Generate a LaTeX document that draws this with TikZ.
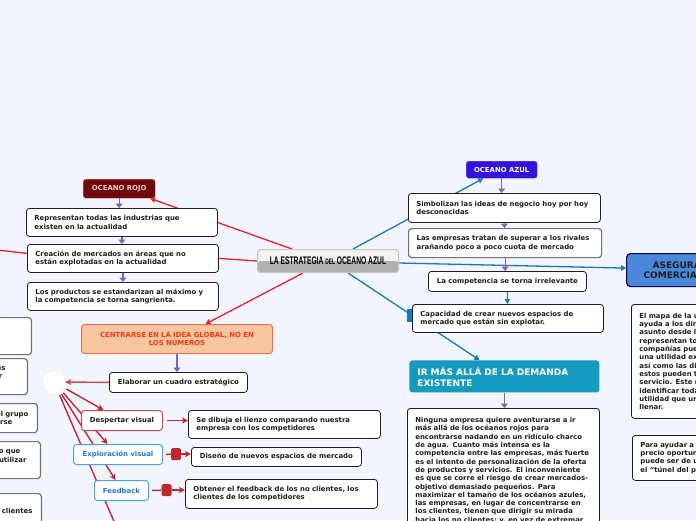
\documentclass[tikz,border=0pt]{standalone}
\usepackage{fontspec}
\setmainfont{DejaVu Sans}
\newfontfamily\titulo{Liberation Sans}
\usepackage{graphicx}
\usetikzlibrary{arrows.meta,calc}

\definecolor{colorfondo}{RGB}{243,245,254}
\definecolor{rojolinea}{RGB}{232,34,44}
\definecolor{rojooscuro}{RGB}{192,40,48}
\definecolor{rojomedio}{RGB}{205,72,82}
\definecolor{azullinea}{RGB}{22,122,192}
\definecolor{morado}{RGB}{128,98,186}
\definecolor{granate}{RGB}{110,8,10}
\definecolor{rosa}{RGB}{245,200,200}
\definecolor{violeta}{RGB}{52,18,222}
\definecolor{durazno}{RGB}{246,198,158}
\definecolor{naranja}{RGB}{240,112,80}
\definecolor{textonaranja}{RGB}{255,56,16}
\definecolor{turquesa}{RGB}{22,154,192}
\definecolor{azulmedio}{RGB}{74,136,218}
\definecolor{azulborde}{RGB}{76,160,248}
\definecolor{azultexto}{RGB}{30,120,226}
\definecolor{texto}{RGB}{30,30,34}

\pgfdeclarelayer{capafondo}
\pgfdeclarelayer{lineas}
\pgfsetlayers{capafondo,lineas,main}

\newcommand\letra{\fontsize{6.9}{8.3}\selectfont\bfseries}
\newcommand\letragrande{\fontsize{9}{11}\selectfont\bfseries}

\tikzset{
	caja/.style={anchor=north west, draw=texto, line width=0.8pt, fill=white,
		rounded corners=3pt, inner xsep=8pt, inner ysep=2pt, align=left,
		font=\letra, text=texto},
	cajagris/.style={caja, draw=black!55, line width=1.2pt},
	cajacorta/.style={caja, align=center},
	cortada/.style={caja, anchor=north east, draw=black!55, line width=1.2pt,
		text width=80pt, align=right},
	centro/.style={anchor=north west, minimum width=141pt, minimum height=23pt,
		inner sep=0pt, rounded corners=3pt, draw=gray!45, line width=1pt, fill=gray!10,
		path picture={\fill[gray!62] (path picture bounding box.west)
			rectangle (path picture bounding box.south east);}},
	titulo/.style={anchor=north west, inner sep=0pt, rounded corners=2.5pt,
		font=\letra, align=center},
	rama/.style={line width=1.3pt},
	punta/.style={-{Triangle[length=5pt,width=5.5pt]}},
	ramaoscura/.style={line width=1.4pt, rojooscuro},
	puntaoscura/.style={-{Stealth[length=6pt,width=6pt,inset=1.5pt]}},
	flecha/.style={-{Triangle[length=4.5pt,width=7pt]}, morado, line width=1.2pt},
	cuadrito/.style={fill=rojooscuro, rounded corners=1.5pt, minimum width=10pt,
		minimum height=12pt, inner sep=0pt}
}

\begin{document}
\begin{tikzpicture}[x=1pt,y=-1pt]

	% fondo
	\useasboundingbox (0,0) rectangle (696,520);
	\begin{pgfonlayer}{capafondo}
		\fill[colorfondo] (0,0) rectangle (696,520);
	\end{pgfonlayer}
	\clip (0,0) rectangle (696,520);

	% nodo central
	\node[centro] (estrategia) at (257,249)
		{\scalebox{0.61}[1]{\titulo\bfseries\fontsize{11}{13}\selectfont LA ESTRATEGIA
		{\fontsize{8}{10}\selectfont DEL} OCEANO AZUL}};

	% oceano rojo
	\node[titulo, fill=granate, draw=rosa!70!red, text=rosa, minimum width=72pt,
		minimum height=19pt] (rojo) at (83,179) {OCEANO ROJO};
	\node[caja, text width=175pt, minimum height=28pt] (industrias) at (26,208)
		{Representan todas las industrias que\\existen en la actualidad};
	\node[caja, text width=175pt, minimum height=28pt] (creacion) at (27,244)
		{Creación de mercados en áreas que no\\están explotadas en la actualidad};
	\node[caja, text width=175pt, minimum height=28pt] (productos) at (27,282)
		{Los productos se estandarizan al máximo y\\la competencia se torna sangrienta.};

	% oceano azul
	\node[titulo, fill=violeta, draw=violeta!60!white, text=white, minimum width=71pt,
		minimum height=17pt] (azul) at (466,161) {OCEANO AZUL};
	\node[caja, text width=176pt, minimum height=29pt] (simbolizan) at (408,193)
		{Simbolizan las ideas de negocio hoy por hoy\\desconocidas};
	\node[cajagris, text width=177pt, minimum height=29pt] (superar) at (408,228)
		{Las empresas tratan de superar a los rivales\\arañando poco a poco cuota de mercado};
	\node[cajacorta, minimum width=158pt, minimum height=20pt] (irrelevante) at (428,271)
		{La competencia se torna irrelevante};
	\node[caja, text width=175pt, minimum height=28pt] (capacidad) at (412,304)
		{Capacidad de crear nuevos espacios de\\mercado que están sin explotar.};
	\node[fill=azullinea, minimum width=5pt, minimum height=13pt, inner sep=0pt]
		(pestana) at (409.5,315.5) {};

	% derecha
	\node[caja, fill=azulmedio, draw=black!70!blue, line width=1.2pt, rounded corners=4pt,
		inner xsep=17pt, text width=120pt, minimum height=33pt,
		font=\fontsize{9}{9.5}\selectfont\bfseries] (asegurar) at (626,253)
		{\kern9pt ASEGURA\\COMERCIA};
	\node[caja, text width=150pt, minimum height=114pt] (mapa) at (631,304)
		{El mapa de la utilidad\\ayuda a los directivos\\asunto desde la\\representan todas\\
		compañías pueden\\una utilidad excepcional\\así como las diversas\\estos pueden tener\\
		servicio. Este r\\identificar toda\\utilidad que un\\llenar.};
	\node[caja, text width=150pt, minimum height=45pt] (ayudar) at (632,435)
		{Para ayudar a\\precio oportuno\\puede ser de utilidad\\el “túnel del precio};

	% demanda existente
	\node[caja, fill=turquesa, draw=none, text=white, text width=174pt, minimum height=32pt,
		font=\letragrande] (demanda) at (409,360)
		{IR MÁS ALLÁ DE LA DEMANDA\\EXISTENTE};
	\node[caja, text width=176pt, inner ysep=9pt] (ninguna) at (407,408)
		{Ninguna empresa quiere aventurarse a ir\\
		más allá de los océanos rojos para\\
		encontrarse nadando en un ridículo charco\\
		de agua. Cuanto más intensa es la\\
		competencia entre las empresas, más fuerte\\
		es el intento de personalización de la oferta\\
		de productos y servicios. El inconveniente\\
		es que se corre el riesgo de crear mercados-\\
		objetivo demasiado pequeños. Para\\
		maximizar el tamaño de los océanos azules,\\
		las empresas, en lugar de concentrarse en\\
		los clientes, tienen que dirigir su mirada\\
		hacia los no clientes; y, en vez de extremar};

	% idea global
	\node[caja, fill=durazno, draw=naranja, text=textonaranja, line width=1pt, align=center,
		text width=175pt, minimum height=29pt] (centrarse) at (81,324)
		{CENTRARSE EN LA IDEA GLOBAL, NO EN\\LOS NÚMEROS};
	\node[cajacorta, minimum width=138pt, minimum height=20pt] (cuadro) at (109,372)
		{Elaborar un cuadro estratégico};
	\node[circle, fill=white, minimum size=22pt, inner sep=0pt] (circulo) at (54,382) {};
	\node[cajacorta, draw=rojomedio, line width=1pt, minimum width=81pt,
		minimum height=20pt] (despertar) at (81,410) {Despertar visual};
	\node[caja, text width=176pt, minimum height=28pt] (lienzo) at (188,410)
		{Se dibuja el lienzo comparando nuestra\\empresa con los competidores};
	\node[cajacorta, draw=azulborde, text=azultexto, line width=1pt, minimum width=89pt,
		minimum height=20pt] (exploracion) at (73,444) {Exploración visual};
	\node[cajacorta, minimum width=170pt, minimum height=19pt] (diseno) at (191,447)
		{Diseño de nuevos espacios de mercado};
	\node[cajacorta, draw=azulborde, text=azultexto, line width=1pt, minimum width=54pt,
		minimum height=20pt] (feedback) at (94,480) {Feedback};
	\node[caja, text width=176pt, minimum height=29pt] (obtener) at (185,479)
		{Obtener el feedback de los no clientes, los\\clientes de los competidores};
	\node[cuadrito] (cuadrado1) at (176,454) {};
	\node[cuadrito] (cuadrado2) at (166.5,490) {};

	% cajas cortadas a la izquierda
	\node[cortada, minimum height=37pt] (izqA) at (32,317) {};
	\node[cortada, minimum height=36pt] (izqB) at (28,358)
		{us\kern14pt\\r\kern17pt\\~};
	\node[cortada, minimum height=29pt] (izqC) at (38,403)
		{el grupo\kern1pt\\irse\kern17pt};
	\node[cortada, minimum height=37pt] (izqD) at (41,441)
		{o que\kern12pt\\utilizar\kern6pt\\~};
	\node[cortada, minimum height=34pt] (izqE) at (42,493) {clientes\kern1pt};

	\coordinate (izq) at (-20,248);
	\coordinate (abajo) at (122,540);

	\begin{pgfonlayer}{lineas}
		% ramas rojas
		\draw[rama, rojolinea, punta] ([xshift=-36pt]estrategia.north) -- ([xshift=31pt]rojo.south);
		\draw[rama, rojolinea] (estrategia.west) -- (creacion.east);
		\draw[rama, rojolinea] ([yshift=5pt]creacion.west) -- (izq);
		\draw[rama, rojolinea, punta] ([xshift=-25pt]estrategia.south) -- ([xshift=28.5pt]centrarse.north);

		% ramas azules
		\draw[rama, azullinea, punta] ([xshift=25pt]estrategia.north) -- ([xshift=-18.5pt]azul.south);
		\draw[rama, azullinea, punta] ([yshift=-2pt]estrategia.east) -- ([yshift=2pt]asegurar.west);
		\draw[rama, azullinea, punta] ([xshift=20pt]estrategia.south) -- ([xshift=-25pt]demanda.north);

		% cuadro estrategico
		\draw[ramaoscura, rojomedio, puntaoscura] (cuadro.west) -- (circulo.east);
		\draw[ramaoscura, puntaoscura, shorten <=3pt] (circulo) -- ([xshift=-18.5pt]despertar.north);
		\draw[ramaoscura, puntaoscura, shorten <=3pt] (circulo) -- ([xshift=-10.5pt]exploracion.north);
		\draw[ramaoscura, puntaoscura, shorten <=3pt] (circulo) -- ([xshift=-6pt]feedback.north);
		\draw[ramaoscura, puntaoscura, shorten <=3pt] (circulo) -- (abajo);
	\end{pgfonlayer}

	\draw[ramaoscura, puntaoscura, shorten <=4pt] (despertar.east) -- (despertar.east -| lienzo.west);
	\draw[ramaoscura, shorten <=3pt] (exploracion.east) -- (cuadrado1);
	\draw[ramaoscura, puntaoscura] (cuadrado1) -- (cuadrado1 -| diseno.west);
	\draw[ramaoscura, shorten <=3pt] (feedback.east) -- (cuadrado2);
	\draw[ramaoscura, puntaoscura] (cuadrado2) -- (cuadrado2 -| obtener.west);
	\draw[rama, azullinea, punta] (irrelevante.south) -- (irrelevante.south |- capacidad.north);

	% flechas moradas
	\draw[flecha] (rojo.south) -- (rojo.south |- industrias.north);
	\draw[flecha] (industrias.south) -- (industrias.south |- creacion.north);
	\draw[flecha] (creacion.south) -- (creacion.south |- productos.north);
	\draw[flecha] (azul.south) -- (azul.south |- simbolizan.north);
	\draw[flecha] (simbolizan.south) -- (simbolizan.south |- superar.north);
	\draw[flecha] (superar.south) -- (superar.south |- irrelevante.north);
	\draw[flecha] (demanda.south) -- (demanda.south |- ninguna.north);
	\draw[flecha] (centrarse.south) -- (centrarse.south |- cuadro.north);

\end{tikzpicture}
\end{document}
